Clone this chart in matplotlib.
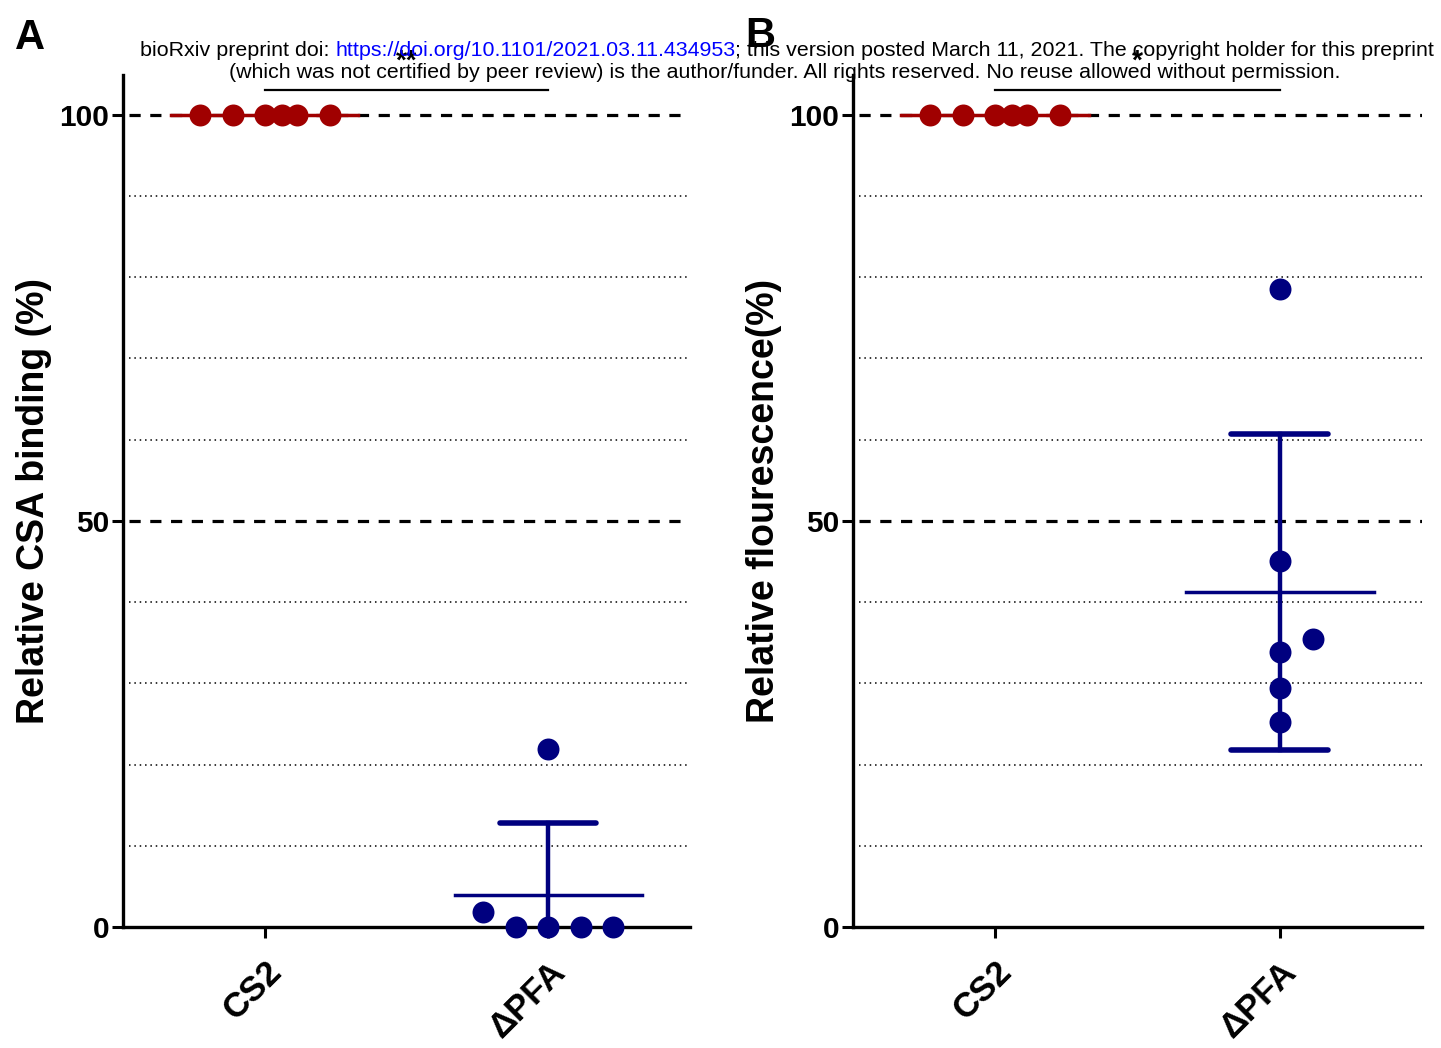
import numpy as np
import matplotlib
matplotlib.use("Agg")
import matplotlib.pyplot as plt

plt.rcParams['font.family'] = ['Liberation Sans', 'DejaVu Sans']

# data
groups = ['CS2', 'ΔPFA']
csa_cs2 = [100, 100, 100, 100, 100, 100]
csa_pfa = [1.9, 0, 0, 0, 0, 21.9]
flu_cs2 = [100, 100, 100, 100, 100, 100]
flu_pfa = [78.5, 45.1, 35.5, 33.8, 29.4, 25.3]
ylabels = ['Relative CSA binding (%)', 'Relative flourescence(%)']
stars = ['**', '*']
panel_letters = ['A', 'B']

# beeswarm layout (horizontal offsets only)
off_cs2 = [-0.229, -0.113, 0, 0.06, 0.113, 0.229]
off_csa_pfa = [-0.229, -0.113, 0, 0.116, 0.229, 0]
off_flu_pfa = [0, 0, 0.116, 0, 0, 0]

red = '#a00000'
navy = '#00007f'

fig = plt.figure(figsize=(14.41, 10.48), dpi=100)
ax_a = fig.add_axes([123 / 1441, 1 - 927 / 1048, 567 / 1441, 852 / 1048])
ax_b = fig.add_axes([853 / 1441, 1 - 927 / 1048, 569 / 1441, 852 / 1048])


def draw_panel(ax, cs2, pfa, off_pfa, ylabel, star):
    ax.set_xlim(-0.5, 1.5)
    ax.set_ylim(0, 104.9)
    # reference lines
    for y in [10, 20, 30, 40, 60, 70, 80, 90]:
        ax.plot([-0.48, 1.5], [y, y], color='black', lw=1.1, ls=(0, (1, 2.5)), zorder=1)
    for y in [50, 100]:
        ax.plot([-0.48, 1.5], [y, y], color='black', lw=2.3, ls=(0, (3.5, 3)), zorder=1)

    for i, (vals, offs, col) in enumerate([(cs2, off_cs2, red), (pfa, off_pfa, navy)]):
        vals = np.array(vals)
        m = vals.mean()
        sd = vals.std(ddof=1)
        ax.plot([i - 0.33, i + 0.33], [m, m], color=col, lw=2.5, zorder=3, clip_on=False)
        if sd > 0:
            ax.plot([i, i], [m - sd, m + sd], color=col, lw=3.2, zorder=3)
            for y in [m - sd, m + sd]:
                if y > 0:
                    ax.plot([i - 0.17, i + 0.17], [y, y], color=col, lw=4,
                            solid_capstyle='round', zorder=3)
        ax.scatter(i + np.array(offs), vals, s=250, color=col, zorder=4,
                   clip_on=False, linewidths=0)

    # significance bar
    ax.plot([0, 1], [103.0, 103.0], color='black', lw=1.6, clip_on=False, zorder=5)
    ax.text(0.5, 106.6, star, ha='center', va='center', fontsize=20,
            fontweight='bold', zorder=5)

    for s in ['top', 'right']:
        ax.spines[s].set_visible(False)
    for s in ['left', 'bottom']:
        ax.spines[s].set_linewidth(2.4)
    ax.set_yticks([0, 50, 100])
    ax.set_yticklabels(['0', '50', '100'], fontsize=21.5, fontweight='bold')
    ax.set_xticks([0, 1])
    ax.set_xticklabels(groups, fontsize=25, fontweight='bold', rotation=45,
                       ha='right', va='top', rotation_mode='anchor')
    ax.tick_params(axis='both', length=8, width=2.2, pad=2)
    ax.tick_params(axis='x', pad=12)
    ax.set_ylabel(ylabel, fontsize=27, fontweight='bold', labelpad=5)


draw_panel(ax_a, csa_cs2, csa_pfa, off_csa_pfa, ylabels[0], stars[0])
draw_panel(ax_b, flu_cs2, flu_pfa, off_flu_pfa, ylabels[1], stars[1])

fig.text(15 / 1441, 1 - 38 / 1048, panel_letters[0], fontsize=30, fontweight='bold', va='center')
fig.text(745 / 1441, 1 - 36 / 1048, panel_letters[1], fontsize=30, fontweight='bold', va='center')

# preprint header
renderer = fig.canvas.get_renderer()
pieces = [('bioRxiv preprint doi: ', 'black'),
          ('https://doi.org/10.1101/2021.03.11.434953', '#0000ff'),
          ('; this version posted March 11, 2021. The copyright holder for this preprint', 'black')]
x = 140 / 1441
for txt, col in pieces:
    t = fig.text(x, 1 - 50 / 1048, txt, color=col, fontsize=15.4, va='center', ha='left')
    bb = t.get_window_extent(renderer)
    x = bb.x1 / fig.bbox.width
fig.text(785 / 1441, 1 - 72 / 1048,
         '(which was not certified by peer review) is the author/funder. All rights reserved. '
         'No reuse allowed without permission.',
         fontsize=15.4, va='center', ha='center')

fig.savefig('out.png', dpi=100)
